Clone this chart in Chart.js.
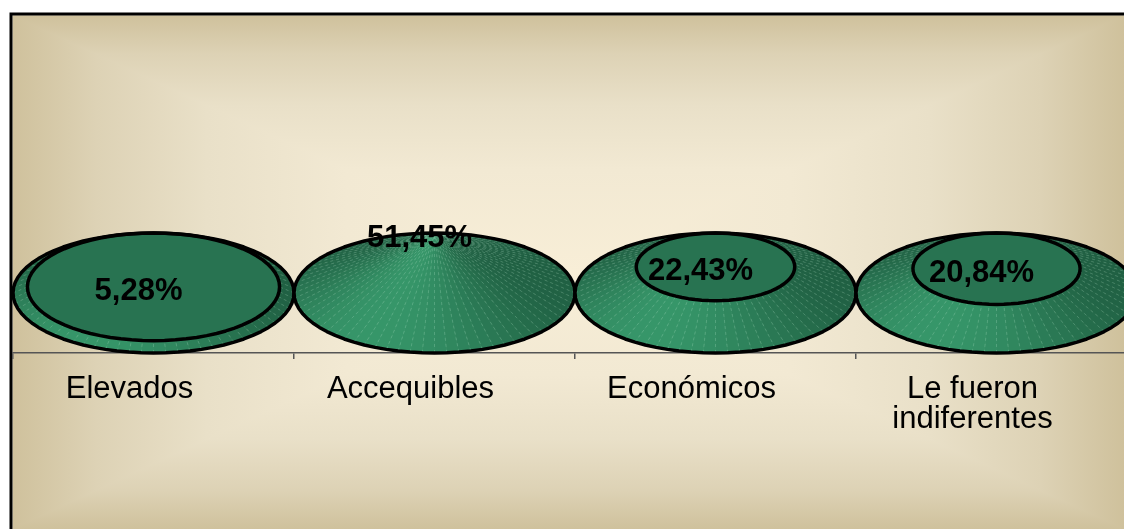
<!DOCTYPE html>
<html lang="es">
<head>
<meta charset="utf-8">
<title>Precios</title>
<script src="https://cdn.jsdelivr.net/npm/chart.js@4"></script>
<style>
  html, body { margin: 0; padding: 0; overflow: hidden; background: #fff; }
  #wrap { width: 1124px; height: 529px; overflow: hidden; }
  canvas { display: block; }
</style>
</head>
<body>
<div id="wrap"><canvas id="conos" width="1140" height="529"></canvas></div>
<script>
const categories = ["Elevados", "Accequibles", "Económicos", ["Le fueron", "indiferentes"]];
const shares = [5.28, 51.45, 22.43, 20.84];

// the tallest cone ends in a point, the others are cut at their value
const peak = Math.max(...shares);
const FONT = "'Liberation Sans', Arial, sans-serif";
const SIDES = 72;

const backdropStops = [
  [0, "#cfc19c"], [0.15, "#ddd2b5"], [0.35, "#e9e0c8"], [0.6, "#f2e9d3"], [1, "#f8eed7"]
];

function mirroredGradient(ctx, ax, ay, bx, by) {
  const g = ctx.createLinearGradient(ax, ay, bx, by);
  backdropStops.forEach(([o, c]) => g.addColorStop(o / 2, c));
  backdropStops.slice().reverse().forEach(([o, c]) => g.addColorStop(1 - o / 2, c));
  return g;
}

// rectangular gradient: horizontal fill, then top and bottom wedges on top
function paintBackdrop(ctx, x0, y0, x1, y1) {
  const cx = (x0 + x1) / 2, cy = (y0 + y1) / 2;
  ctx.fillStyle = mirroredGradient(ctx, x0, cy, x1, cy);
  ctx.fillRect(x0, y0, x1 - x0, y1 - y0);
  ctx.fillStyle = mirroredGradient(ctx, cx, y0, cx, y1);
  [y0, y1].forEach(ey => {
    ctx.beginPath();
    ctx.moveTo(x0, ey);
    ctx.lineTo(x1, ey);
    ctx.lineTo(cx, cy);
    ctx.closePath();
    ctx.fill();
  });
}

const darkGreen = [32, 96, 67];
const lightGreen = [54, 150, 105];

function sideShade(angle) {
  const f = Math.pow((1 + Math.cos(angle - 2.1)) / 2, 3);
  const c = darkGreen.map((d, k) => Math.round(d + (lightGreen[k] - d) * f));
  return `rgb(${c[0]},${c[1]},${c[2]})`;
}

function drawCone(ctx, cx, cy, rx, ry, frac, topY) {
  const keep = 1 - frac; // part of the base radius left at the cut
  const pts = [];
  for (let i = 0; i <= SIDES; i++) {
    const a = i / SIDES * Math.PI * 2;
    pts.push({
      bx: cx + rx * Math.cos(a), by: cy + ry * Math.sin(a),
      tx: cx + rx * keep * Math.cos(a), ty: topY + ry * keep * Math.sin(a)
    });
  }
  ctx.save();
  for (let i = 0; i < SIDES; i++) {
    const p = pts[i], q = pts[i + 1];
    const col = sideShade((i + 0.5) / SIDES * Math.PI * 2);
    ctx.fillStyle = col;
    ctx.strokeStyle = col;
    ctx.lineWidth = 0.8;
    ctx.beginPath();
    ctx.moveTo(p.bx, p.by);
    ctx.lineTo(q.bx, q.by);
    ctx.lineTo(q.tx, q.ty);
    ctx.lineTo(p.tx, p.ty);
    ctx.closePath();
    ctx.fill();
    ctx.stroke();
  }
  // thin seams between the facets
  ctx.strokeStyle = "rgba(185, 232, 208, 0.4)";
  ctx.lineWidth = 0.6;
  ctx.setLineDash([3, 3]);
  for (let i = 0; i < SIDES; i++) {
    ctx.beginPath();
    ctx.moveTo(pts[i].bx, pts[i].by);
    ctx.lineTo(pts[i].tx, pts[i].ty);
    ctx.stroke();
  }
  ctx.setLineDash([]);
  ctx.strokeStyle = "#000";
  ctx.lineWidth = 3.5;
  ctx.lineJoin = "round";
  if (keep > 0.02) {
    ctx.beginPath();
    pts.forEach((p, i) => i ? ctx.lineTo(p.tx, p.ty) : ctx.moveTo(p.tx, p.ty));
    ctx.closePath();
    ctx.fillStyle = "#287351";
    ctx.fill();
    ctx.stroke();
  }
  ctx.beginPath();
  pts.forEach((p, i) => i ? ctx.lineTo(p.bx, p.by) : ctx.moveTo(p.bx, p.by));
  ctx.closePath();
  ctx.stroke();
  ctx.restore();
}

const cones = {
  id: "cones",
  beforeDraw(chart) {
    const ctx = chart.ctx;
    ctx.save();
    paintBackdrop(ctx, 12.5, 15.5, 1124, 529);
    ctx.strokeStyle = "#000";
    ctx.lineWidth = 3;
    ctx.strokeRect(11, 14, 1200, 600);
    ctx.restore();
  },
  afterDatasetsDraw(chart) {
    const { ctx, scales: { x, y } } = chart;
    const rx = (x.getPixelForValue(1) - x.getPixelForValue(0)) / 2;
    const baseY = y.getPixelForValue(0);
    const ry = y.getPixelForValue(-peak) - baseY;
    shares.forEach((v, i) => {
      drawCone(ctx, x.getPixelForValue(i), baseY, rx, ry, v / peak, y.getPixelForValue(v));
    });
    ctx.save();
    ctx.font = `bold 31px ${FONT}`;
    ctx.fillStyle = "#000";
    ctx.textAlign = "center";
    ctx.textBaseline = "middle";
    shares.forEach((v, i) => {
      const txt = v.toFixed(2).replace(".", ",") + "%";
      ctx.fillText(txt, x.getPixelForValue(i) - 15, y.getPixelForValue(v) + 5);
    });
    ctx.restore();
  }
};

new Chart(document.getElementById("conos"), {
  type: "bar",
  data: {
    labels: categories,
    datasets: [{ data: shares, backgroundColor: "transparent", borderWidth: 0 }]
  },
  options: {
    responsive: false,
    animation: false,
    events: [],
    layout: { padding: { top: 233, left: 13, right: 3, bottom: 0 } },
    plugins: { legend: { display: false }, tooltip: { enabled: false } },
    scales: {
      x: {
        offset: true,
        grid: { offset: true, drawOnChartArea: false, tickLength: 6, color: "#555", lineWidth: 1.5 },
        border: { display: true, color: "#555", width: 1.5 },
        ticks: {
          color: "#000",
          font: { family: FONT, size: 31, lineHeight: 0.97 },
          padding: 15,
          labelOffset: -24,
          maxRotation: 0,
          autoSkip: false
        },
        afterFit(scale) { scale.height = 176; }
      },
      y: { display: false, min: -peak, max: peak }
    }
  },
  plugins: [cones]
});
</script>
</body>
</html>
